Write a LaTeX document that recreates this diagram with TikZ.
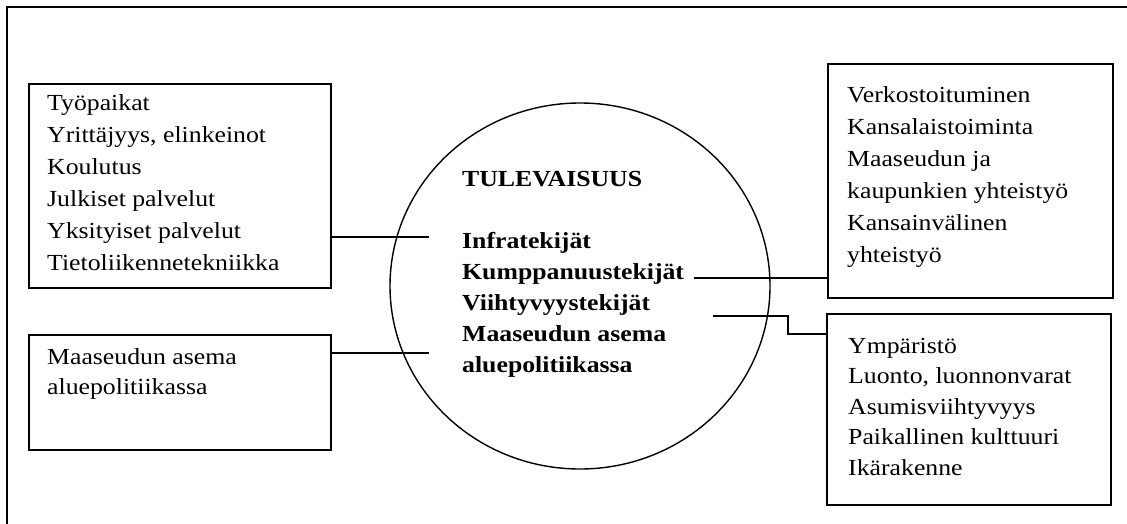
\documentclass[tikz,border=0pt]{standalone}
\usepackage{fontspec}
\setmainfont{Liberation Serif}[FakeStretch=1.12]
\usetikzlibrary{shapes.geometric}
\begin{document}
\begin{tikzpicture}[x=1pt,y=-1pt,
  frame/.style={line width=1.6pt},
  box/.style={draw, line width=1.6pt, anchor=north west, inner sep=0pt},
  link/.style={line width=1.4pt},
  txt/.style={anchor=north west, inner sep=0pt, align=left},
  lh/.style={font=\fontsize{23}{#1}\selectfont},
]
\useasboundingbox (0,0) rectangle (1127,524);

% outer frame (only its top and left sides lie on the page)
\draw[frame] (1127,7) -- (7,7) -- (7,524);

% the four boxes
\node[box, minimum width=302pt, minimum height=204pt] (infraBox) at (28,83) {};
\node[box, minimum width=302pt, minimum height=115pt] (maaBox) at (28,334) {};
\node[box, minimum width=285pt, minimum height=234pt] (kumpBox) at (827,63) {};
\node[box, minimum width=284pt, minimum height=191pt] (viihBox) at (826,313) {};

% central ellipse
\node[draw, ellipse, line width=1.4pt, inner sep=0pt,
      minimum width=380pt, minimum height=366pt] (future) at (580,286) {};

% texts (first baseline = top + 20)
\node[txt, lh=32] (infraTxt) at (47,90) {\rule{0pt}{20pt}Työpaikat\\
  Yrittäjyys, elinkeinot\\ Koulutus\\ Julkiset palvelut\\
  Yksityiset palvelut\\ Tietoliikennetekniikka};
\node[txt, lh=30] (maaTxt) at (47,344) {\rule{0pt}{20pt}Maaseudun asema\\
  aluepolitiikassa};
\node[txt, lh=32] (kumpTxt) at (847,82) {\rule{0pt}{20pt}Verkostoituminen\\
  Kansalaistoiminta\\ Maaseudun ja\\ kaupunkien yhteistyö\\
  Kansainvälinen\\ yhteistyö};
\node[txt, lh=30.5] (viihTxt) at (848,333) {\rule{0pt}{20pt}Ympäristö\\
  Luonto, luonnonvarat\\ Asumisviihtyvyys\\ Paikallinen kulttuuri\\
  Ikärakenne};
\node[txt, lh=31, font=\fontsize{23}{31}\bfseries] (futTxt) at (462,166)
  {\rule{0pt}{20pt}TULEVAISUUS\\ \\ Infratekijät\\ Kumppanuustekijät\\
  Viihtyvyystekijät\\ Maaseudun asema\\ aluepolitiikassa};

% connectors
\coordinate (infraEnd) at (429,237);
\coordinate (maaEnd) at (429,353);
\coordinate (kumpEnd) at (694,278);
\coordinate (viihEnd) at (713,316);
\coordinate (viihBend) at (788,316);
\coordinate (viihLevel) at (0,334);

\draw[link] (infraBox.east |- infraEnd) -- (infraEnd);
\draw[link] (maaBox.east |- maaEnd) -- (maaEnd);
\draw[link] (kumpEnd) -- (kumpBox.west |- kumpEnd);
\draw[link] (viihEnd) -- (viihBend) |- (viihBox.west |- viihLevel);
\end{tikzpicture}
\end{document}
